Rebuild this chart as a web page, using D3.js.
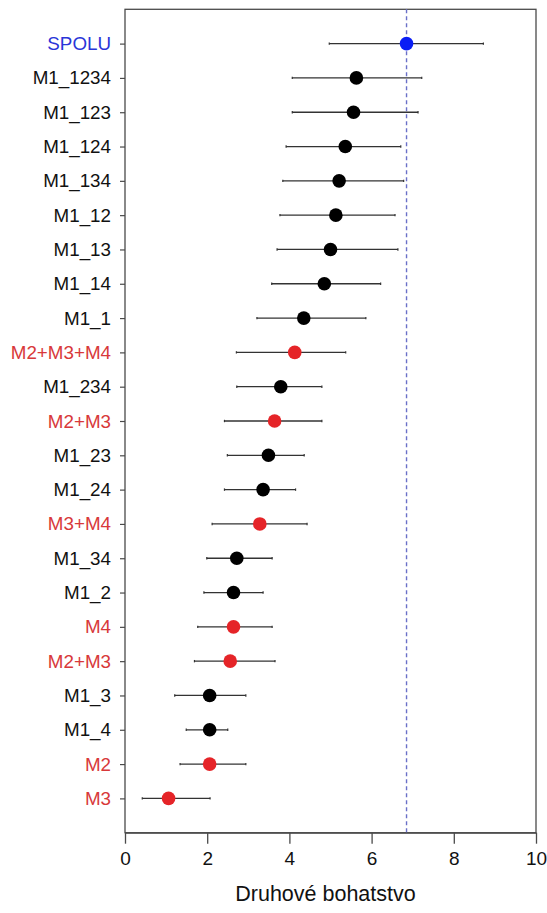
<!DOCTYPE html>
<html>
<head>
<meta charset="utf-8">
<script src="https://cdn.jsdelivr.net/npm/d3@7"></script>
<style>
  html, body { margin: 0; padding: 0; background: #fff; }
  svg { display: block; }
  text { font-family: "Liberation Sans", Arial, sans-serif; }
</style>
</head>
<body>
<script>
// Species richness per model: mean with interval bounds
const categories = ["SPOLU", "M1_1234", "M1_123", "M1_124", "M1_134", "M1_12", "M1_13", "M1_14",
  "M1_1", "M2+M3+M4", "M1_234", "M2+M3", "M1_23", "M1_24", "M3+M4", "M1_34", "M1_2", "M4",
  "M2+M3 ", "M1_3", "M1_4", "M2", "M3"];
const labels = ["SPOLU", "M1_1234", "M1_123", "M1_124", "M1_134", "M1_12", "M1_13", "M1_14",
  "M1_1", "M2+M3+M4", "M1_234", "M2+M3", "M1_23", "M1_24", "M3+M4", "M1_34", "M1_2", "M4",
  "M2+M3", "M1_3", "M1_4", "M2", "M3"];
const groups = ["total", "M1", "M1", "M1", "M1", "M1", "M1", "M1",
  "M1", "M", "M1", "M", "M1", "M1", "M", "M1", "M1", "M",
  "M", "M1", "M1", "M", "M"];
const means = [6.85, 5.63, 5.56, 5.36, 5.21, 5.13, 5.00, 4.85,
  4.35, 4.13, 3.79, 3.64, 3.49, 3.36, 3.28, 2.72, 2.64, 2.64,
  2.56, 2.06, 2.06, 2.06, 1.06];
const lower = [4.97, 4.07, 4.07, 3.92, 3.84, 3.77, 3.70, 3.57,
  3.21, 2.71, 2.72, 2.42, 2.49, 2.42, 2.12, 1.99, 1.92, 1.77,
  1.69, 1.21, 1.49, 1.34, 0.42];
const upper = [8.72, 7.22, 7.13, 6.71, 6.78, 6.57, 6.64, 6.22,
  5.86, 5.37, 4.79, 4.79, 4.36, 4.15, 4.43, 3.58, 3.36, 3.58,
  3.65, 2.94, 2.50, 2.94, 2.07];
const xTicks = [0, 2, 4, 6, 8, 10];
const referenceValue = 6.85;
const xTitle = "Druhové bohatstvo";

const pointColor = { total: "#0a1ef5", M1: "#000000", M: "#e52428" };
const labelColor = { total: "#2a35d8", M1: "#111111", M: "#d8383a" };

const W = 547, H = 913;
const plotLeft = 125, plotRight = 536, plotTop = 9.3, plotBottom = 832.7;

const svg = d3.select("body").append("svg").attr("width", W).attr("height", H);

const x = d3.scaleLinear().domain([0, 10]).range([plotLeft, plotRight]);
const y = d3.scalePoint().domain(categories).range([plotTop, plotBottom]).padding(1);

const rows = categories.map((c, i) => ({
  key: c, label: labels[i], group: groups[i], mean: means[i], lo: lower[i], hi: upper[i]
}));

// plot frame
svg.append("rect")
  .attr("x", plotLeft).attr("y", plotTop)
  .attr("width", plotRight - plotLeft).attr("height", plotBottom - plotTop)
  .attr("fill", "none").attr("stroke", "#4a4a4a").attr("stroke-width", 1.3);

// x axis
const xAxis = svg.append("g")
  .attr("transform", `translate(0,${plotBottom})`)
  .call(d3.axisBottom(x).tickValues(xTicks).tickFormat(d3.format("d")).tickSizeInner(11).tickSizeOuter(0).tickPadding(8));
xAxis.select(".domain").attr("stroke", "#4a4a4a").attr("stroke-width", 1.3);
xAxis.selectAll(".tick line").attr("stroke", "#4a4a4a").attr("stroke-width", 1.3);
xAxis.selectAll(".tick text").attr("font-size", 19).attr("fill", "#111")
  .style("font-family", "'Liberation Sans', Arial, sans-serif");

// y axis with coloured category labels
const yAxis = svg.append("g")
  .attr("transform", `translate(${plotLeft},0)`)
  .call(d3.axisLeft(y).tickSizeInner(5).tickSizeOuter(0).tickPadding(9)
    .tickFormat((d, i) => labels[i]));
yAxis.select(".domain").remove();
yAxis.selectAll(".tick line").attr("stroke", "#4a4a4a").attr("stroke-width", 1.2);
yAxis.selectAll(".tick text")
  .attr("font-size", 18.8)
  .attr("fill", (d, i) => labelColor[groups[i]])
  .style("font-family", "'Liberation Sans', Arial, sans-serif");

// axis title
svg.append("text")
  .attr("x", (plotLeft + plotRight) / 2 - 5).attr("y", 901)
  .attr("text-anchor", "middle")
  .attr("font-size", 21.5).attr("fill", "#111")
  .text(xTitle);

// reference line at the overall value
svg.append("line")
  .attr("x1", x(referenceValue)).attr("x2", x(referenceValue))
  .attr("y1", plotTop).attr("y2", plotBottom)
  .attr("stroke", "#6a70c8").attr("stroke-width", 1.4)
  .attr("stroke-dasharray", "4,3");

// interval bars
const bars = svg.append("g").selectAll("g").data(rows).join("g");
bars.append("line")
  .attr("x1", d => x(d.lo)).attr("x2", d => x(d.hi))
  .attr("y1", d => y(d.key)).attr("y2", d => y(d.key))
  .attr("stroke", "#333").attr("stroke-width", 1.3);
bars.append("line")
  .attr("x1", d => x(d.lo)).attr("x2", d => x(d.lo))
  .attr("y1", d => y(d.key) - 1.2).attr("y2", d => y(d.key) + 1.2)
  .attr("stroke", "#333").attr("stroke-width", 1.2);
bars.append("line")
  .attr("x1", d => x(d.hi)).attr("x2", d => x(d.hi))
  .attr("y1", d => y(d.key) - 1.2).attr("y2", d => y(d.key) + 1.2)
  .attr("stroke", "#333").attr("stroke-width", 1.2);

// means
svg.append("g").selectAll("circle").data(rows).join("circle")
  .attr("cx", d => x(d.mean)).attr("cy", d => y(d.key))
  .attr("r", 6.8)
  .attr("fill", d => pointColor[d.group]);
</script>
</body>
</html>
